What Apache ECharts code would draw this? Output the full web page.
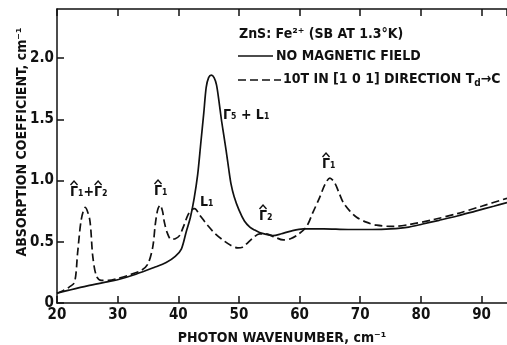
<!DOCTYPE html>
<html><head><meta charset="utf-8">
<script src="https://cdn.jsdelivr.net/npm/echarts@6.0.0/dist/echarts.min.js"></script>
<style>html,body{margin:0;padding:0;background:#fff}#c{width:507px;height:345px}</style>
</head><body><div id="c"></div>
<script>
// ---- data ----
const xTicks = [20, 30, 40, 50, 60, 70, 80, 90];
const yTicks = [0, 0.5, 1.0, 1.5, 2.0];

const solidX = [20, 22, 25, 28, 30, 33, 36, 38, 39.5, 40.5, 41.3, 42, 42.6, 43.2, 43.7, 44.2, 44.6, 45, 45.45, 45.9, 46.3, 46.7, 47.1, 47.5, 47.9, 48.3, 48.7, 49.2, 50, 50.9, 51.8, 52.6, 53.4, 54.5, 55.6, 57, 58.4, 60.6, 64, 68, 72, 75, 78, 80.3, 83, 86, 89, 92, 94.2];
const solidY = [0.08, 0.105, 0.14, 0.17, 0.19, 0.235, 0.29, 0.33, 0.38, 0.44, 0.58, 0.7, 0.85, 1.05, 1.3, 1.55, 1.76, 1.84, 1.86, 1.84, 1.78, 1.65, 1.5, 1.37, 1.24, 1.1, 0.97, 0.87, 0.76, 0.67, 0.62, 0.595, 0.575, 0.56, 0.55, 0.565, 0.585, 0.605, 0.605, 0.6, 0.6, 0.605, 0.62, 0.645, 0.675, 0.71, 0.75, 0.79, 0.82];

const dashX = [20, 21, 22, 22.9, 23.4, 24, 24.65, 25.4, 25.9, 26.5, 27.3, 28.5, 30, 32, 34, 35, 35.8, 36.2, 36.6, 37, 37.4, 37.7, 38.2, 38.8, 39.5, 40.2, 40.9, 41.6, 42.2, 42.7, 43.5, 44.9, 46.2, 47.6, 48.7, 49.8, 50.6, 51.2, 52.3, 53.4, 54.5, 55.8, 57.3, 58.5, 59.5, 61.1, 62.2, 63.3, 64.2, 65, 65.8, 66.5, 67.2, 68.3, 69.4, 71, 72.7, 75.4, 78, 82, 86, 90, 94.2];
const dashY = [0.08, 0.1, 0.13, 0.17, 0.41, 0.68, 0.78, 0.68, 0.38, 0.22, 0.185, 0.185, 0.2, 0.23, 0.27, 0.32, 0.46, 0.64, 0.76, 0.8, 0.75, 0.66, 0.57, 0.52, 0.525, 0.55, 0.63, 0.72, 0.76, 0.77, 0.72, 0.63, 0.56, 0.505, 0.47, 0.45, 0.455, 0.48, 0.53, 0.565, 0.565, 0.54, 0.515, 0.525, 0.55, 0.62, 0.74, 0.86, 0.97, 1.02, 0.98, 0.9, 0.82, 0.75, 0.7, 0.66, 0.635, 0.625, 0.64, 0.68, 0.73, 0.79, 0.855];

const seriesNames = ['NO MAGNETIC FIELD', '10T IN [1 0 1] DIRECTION T{sub|d}\u2192C'];
const titleText = 'ZnS: Fe\u00B2\u207A (SB AT 1.3\u00B0K)';
const xTitle = 'PHOTON WAVENUMBER, cm\u207B\u00B9';
const yTitle = 'ABSORPTION COEFFICIENT, cm\u207B\u00B9';
// '^' marks a hat over the next character
const peakLabels = ['^\u0393\u2081+^\u0393\u2082', '^\u0393\u2081', 'L\u2081', '\u0393\u2085 + L\u2081', '^\u0393\u2082', '^\u0393\u2081'];

// ---- chart ----
const FONT = '"DejaVu Sans Condensed", "Liberation Sans Narrow", "DejaVu Sans", sans-serif';
const LFONT = 'bold 14px ' + FONT;
const INK = '#111';
const zip = (a, b) => a.map((v, i) => [v, b[i]]);
const mctx = document.createElement('canvas').getContext('2d');
mctx.font = LFONT;

const txt = (text, x, y, extra) => ({
  type: 'text', x: x, y: y,
  style: Object.assign({text: text, fill: INK, font: LFONT, align: 'left', verticalAlign: 'middle'}, extra || {})
});
function hatted(label, x, y) {
  let plain = '';
  const hats = [];
  for (const ch of label) { if (ch === '^') hats.push(plain.length); else plain += ch; }
  const els = [txt(plain, x, y)];
  hats.forEach(i => {
    const pre = mctx.measureText(plain.slice(0, i)).width;
    const w = mctx.measureText(plain[i]).width;
    const cx = x + pre + w / 2;
    els.push({type: 'polyline', shape: {points: [[cx - 3.5, y - 7], [cx, y - 11], [cx + 3.5, y - 7]]},
      style: {stroke: INK, lineWidth: 1.4, fill: null}});
  });
  return els;
}

const chart = echarts.init(document.getElementById('c'), null, {renderer: 'canvas'});
const tickStyle = {show: true, inside: true, length: 7, lineStyle: {color: INK, width: 1.5}};

chart.setOption({
  animation: false,
  backgroundColor: '#fff',
  grid: {left: 57, right: 0, top: 9, bottom: 42, containLabel: false, outerBoundsMode: 'none'},
  xAxis: [{
    type: 'value', min: 20, max: 94.2, interval: 10, position: 'bottom',
    axisLine: {show: true, onZero: false, lineStyle: {color: INK, width: 1.5}},
    axisTick: tickStyle,
    splitLine: {show: false},
    axisLabel: {margin: 5, color: INK, fontFamily: FONT, fontSize: 15, fontWeight: 'bold', showMaxLabel: false,
      formatter: v => xTicks.includes(v) ? String(v) : ''},
    name: xTitle, nameLocation: 'middle', nameGap: 28,
    nameTextStyle: {color: INK, fontFamily: FONT, fontSize: 14, fontWeight: 'bold'}
  }, {
    type: 'value', min: 20, max: 94.2, interval: 10, position: 'top',
    axisLine: {show: true, onZero: false, lineStyle: {color: INK, width: 1.5}},
    axisTick: tickStyle, axisLabel: {show: false}, splitLine: {show: false}
  }],
  yAxis: {
    type: 'value', min: 0, max: 2.4, interval: 0.5,
    axisLine: {show: true, onZero: false, lineStyle: {color: INK, width: 1.5}},
    axisTick: tickStyle, splitLine: {show: false},
    axisLabel: {margin: 3, color: INK, fontFamily: FONT, fontSize: 15, fontWeight: 'bold', showMaxLabel: false,
      formatter: v => yTicks.includes(v) ? (v === 0 ? '0' : v.toFixed(1)) : ''}
  },
  series: [{
    name: seriesNames[0], type: 'line', data: zip(solidX, solidY), showSymbol: false, smooth: 0.3,
    lineStyle: {color: INK, width: 1.7}, z: 3
  }, {
    name: seriesNames[1], type: 'line', data: zip(dashX, dashY), showSymbol: false, smooth: 0.3,
    lineStyle: {color: INK, width: 1.7, type: [8, 4]}, z: 3
  }],
  graphic: [
    Object.assign(txt(yTitle, 22, 142, {align: 'center'}), {rotation: Math.PI / 2}),
    txt(titleText, 239, 34),
    {type: 'line', shape: {x1: 238, y1: 56, x2: 273, y2: 56}, style: {stroke: INK, lineWidth: 1.7}},
    txt(seriesNames[0], 276, 56),
    {type: 'line', shape: {x1: 238, y1: 80, x2: 281, y2: 80}, style: {stroke: INK, lineWidth: 1.7, lineDash: [8, 4]}},
    txt(seriesNames[1], 283, 79, {rich: {sub: {font: 'bold 10px ' + FONT, fill: INK, padding: [9, 0, 0, 0]}}}),
    ...hatted(peakLabels[0], 70, 192),
    ...hatted(peakLabels[1], 154, 191),
    ...hatted(peakLabels[2], 200, 202),
    ...hatted(peakLabels[3], 223, 115),
    ...hatted(peakLabels[4], 259, 216),
    ...hatted(peakLabels[5], 322, 164)
  ]
});
</script>
</body></html>
